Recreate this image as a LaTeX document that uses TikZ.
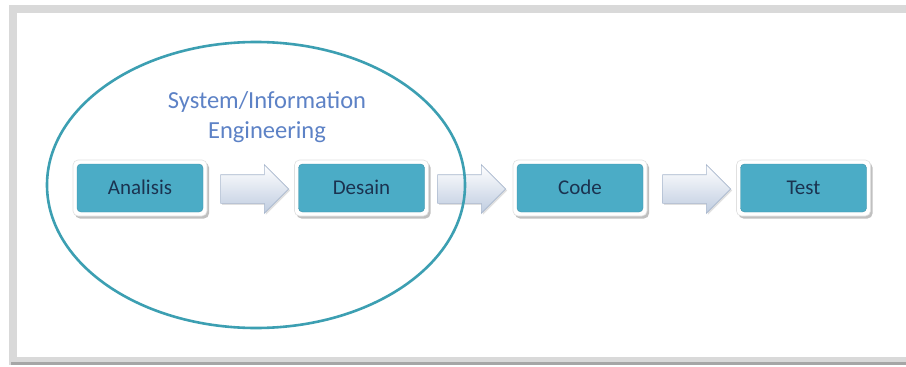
\documentclass[tikz,border=0pt]{standalone}
\usepackage{fontspec}
\setmainfont{Carlito}
\usetikzlibrary{shapes.geometric,shapes.arrows,shadows,calc}

\definecolor{pagegray}{HTML}{D9D9D9}
\definecolor{edgegray}{HTML}{A6A6A6}
\definecolor{boxblue}{HTML}{4BACC6}
\definecolor{boxtext}{HTML}{1B3350}
\definecolor{ringteal}{HTML}{3C9FB2}
\definecolor{labelblue}{HTML}{5D82C6}
\definecolor{arrowfill}{HTML}{BFCCE0}
\definecolor{arrowedge}{HTML}{A8B7CD}

\tikzset{
  stepframe/.style={rectangle, rounded corners=5pt, fill=white, draw=black!12,
    line width=0.6pt, minimum width=134pt, minimum height=56pt, inner sep=0pt,
    drop shadow={shadow xshift=2pt, shadow yshift=-2.5pt, opacity=0.35, fill=black!70}},
  stepbox/.style={rectangle, rounded corners=4pt, fill=boxblue, draw=boxblue!85!black,
    line width=0.4pt, minimum width=126pt, minimum height=48pt, inner sep=0pt,
    text height=14pt, text depth=1pt,
    text=boxtext, font=\fontsize{21}{24}\selectfont},
  flowarrow/.style={single arrow, single arrow head extend=10pt, single arrow head indent=0pt,
    minimum height=68pt, minimum width=48pt, inner xsep=0pt, inner ysep=14pt,
    anchor=tail,
    top color=white, bottom color=arrowfill, draw=arrowedge, line width=0.6pt,
    drop shadow={shadow xshift=1.5pt, shadow yshift=-1.5pt, opacity=0.2, fill=black!60}},
  ring/.style={ellipse, draw=ringteal, line width=2.6pt, minimum width=418pt,
    minimum height=286pt, inner sep=0pt},
  ringlabel/.style={align=center, text=labelblue, font=\fontsize{24.5}{30}\selectfont}
}

\begin{document}
\begin{tikzpicture}[x=1pt, y=-1pt]
  \useasboundingbox (0,0) rectangle (906,367);

  % page frame
  \fill[pagegray] (9,5) rectangle (906,365);
  \fill[edgegray] (11,362) rectangle (906,365);
  \fill[white] (17,13) rectangle (906,357);

  % process steps
  \node[stepframe] (anf) at (140,188) {};
  \node[stepbox] (an) at (anf) {Analisis};
  \node[stepframe] (def) at (361.5,188) {};
  \node[stepbox] (de) at (def) {Desain};
  \node[stepframe] (cof) at (580,188) {};
  \node[stepbox] (co) at (cof) {Code};
  \node[stepframe] (tef) at (803.5,188) {};
  \node[stepbox] (te) at (tef) {Test};

  % block arrows between the steps
  \node[flowarrow] (a1) at ($(anf.east)+(13,1)$) {};
  \node[flowarrow] (a2) at ($(def.east)+(8.5,1)$) {};
  \node[flowarrow] (a3) at ($(cof.east)+(15,1)$) {};

  % scope of system/information engineering
  \node[ring] (scope) at (256,185) {};
  \node[ringlabel] (lbl) at (267,117) {System/Information\\Engineering};
\end{tikzpicture}
\end{document}
